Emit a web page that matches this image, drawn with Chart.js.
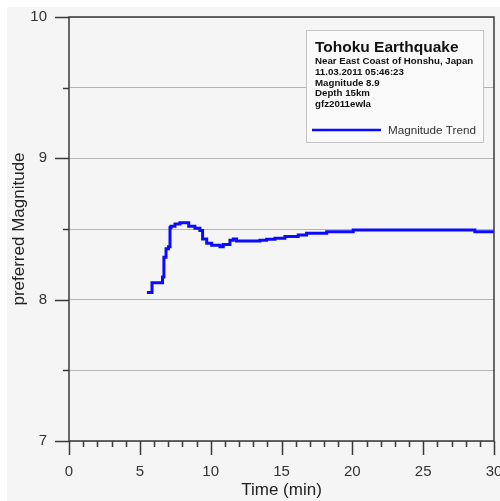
<!DOCTYPE html>
<html>
<head>
<meta charset="utf-8">
<script src="https://cdn.jsdelivr.net/npm/chart.js@4"></script>
<style>
html, body { margin: 0; padding: 0; background: #fff; overflow: hidden; }
</style>
</head>
<body>
<canvas id="chart" width="520" height="501"></canvas>
<script>
// magnitude estimates over time after origin
const timeMin = [5.50, 5.86, 6.60, 6.70, 6.85, 7.02, 7.13, 7.20, 7.48, 7.83, 8.45, 8.89, 9.24, 9.43, 9.72, 10.07, 10.66, 10.89, 11.36, 11.60, 11.83, 13.48, 13.95, 14.54, 15.24, 16.18, 16.77, 18.19, 20.06, 28.65, 30.0];
const magnitude = [8.05, 8.12, 8.16, 8.30, 8.36, 8.375, 8.51, 8.52, 8.535, 8.545, 8.52, 8.505, 8.49, 8.43, 8.40, 8.385, 8.375, 8.39, 8.42, 8.43, 8.415, 8.42, 8.427, 8.435, 8.447, 8.458, 8.47, 8.48, 8.493, 8.48, 8.48];

const xRange = [0, 30];
const yRange = [7, 10];
const seriesLabel = "Magnitude Trend";
const eventTitle = "Tohoku Earthquake";
const eventLines = [
    "Near East Coast of Honshu, Japan",
    "11.03.2011 05:46:23",
    "Magnitude 8.9",
    "Depth 15km",
    "gfz2011ewla"
];

const FONT = "'Liberation Sans', Arial, sans-serif";
const AXIS_COLOR = "#3a3a3a";

const backdrop = {
    id: "backdrop",
    beforeDraw(chart) {
        const ctx = chart.ctx;
        ctx.save();
        ctx.fillStyle = "#f5f5f5";
        ctx.fillRect(7, 7, chart.width - 7, chart.height - 7);
        ctx.restore();
    }
};

const frameAndTicks = {
    id: "frameAndTicks",
    afterDraw(chart) {
        const ctx = chart.ctx;
        const { left, right, top, bottom } = chart.chartArea;
        const xs = chart.scales.x;
        const ys = chart.scales.y;
        ctx.save();
        ctx.strokeStyle = AXIS_COLOR;
        ctx.lineWidth = 1.5;
        ctx.beginPath();
        ctx.rect(left, top, right - left, bottom - top);
        ctx.stroke();

        ctx.beginPath();
        for (let v = xRange[0]; v <= xRange[1]; v += 1) {
            const px = Math.round(xs.getPixelForValue(v)) + 0.5;
            const len = v % 5 === 0 ? 14 : 6;
            ctx.moveTo(px, bottom);
            ctx.lineTo(px, bottom + len);
        }
        for (let v = yRange[0]; v <= yRange[1]; v += 0.5) {
            const py = Math.round(ys.getPixelForValue(v)) + 0.5;
            const len = Number.isInteger(v) ? 14 : 6;
            ctx.moveTo(left, py);
            ctx.lineTo(left - len, py);
        }
        ctx.stroke();

        // info box with legend
        const bx = 306, by = 30, bw = 177, bh = 112;
        ctx.fillStyle = "#fafafa";
        ctx.strokeStyle = "#c4c4c4";
        ctx.lineWidth = 1;
        ctx.fillRect(bx, by, bw, bh);
        ctx.strokeRect(bx + 0.5, by + 0.5, bw, bh);

        ctx.fillStyle = "#111";
        ctx.textAlign = "left";
        ctx.textBaseline = "alphabetic";
        ctx.font = "bold 15.5px " + FONT;
        ctx.fillText(eventTitle, 315, 52);
        ctx.font = "bold 9.7px " + FONT;
        eventLines.forEach((line, i) => {
            ctx.fillText(line, 315, 64.3 + i * 10.6);
        });

        const ds = chart.data.datasets[0];
        ctx.strokeStyle = ds.borderColor;
        ctx.lineWidth = 2.5;
        ctx.beginPath();
        ctx.moveTo(312, 130);
        ctx.lineTo(381, 130);
        ctx.stroke();
        ctx.fillStyle = "#333";
        ctx.font = "11.7px " + FONT;
        ctx.fillText(ds.label, 388, 134);
        ctx.restore();
    }
};

new Chart(document.getElementById("chart"), {
    type: "line",
    data: {
        datasets: [
            {
                label: seriesLabel,
                data: timeMin.map((t, i) => ({ x: t, y: magnitude[i] })),
                borderColor: "#0a0aff",
                borderWidth: 3,
                pointRadius: 0,
                stepped: true,
                fill: false
            }
        ]
    },
    options: {
        responsive: false,
        animation: false,
        layout: { padding: { left: 0, top: 17, right: 26, bottom: 0 } },
        plugins: {
            legend: { display: false },
            tooltip: { enabled: false }
        },
        scales: {
            x: {
                type: "linear",
                min: xRange[0],
                max: xRange[1],
                afterFit: (s) => {
                    s.height = 60;
                    s.paddingLeft = 0;
                    s.paddingRight = 0;
                },
                grid: { display: false },
                border: { display: false },
                ticks: {
                    stepSize: 5,
                    padding: 14,
                    color: "#333",
                    font: { family: FONT, size: 15 },
                    maxRotation: 0
                },
                title: {
                    display: true,
                    text: "Time (min)",
                    color: "#222",
                    font: { family: FONT, size: 17, lineHeight: 1 },
                    padding: { top: 0, bottom: 2 }
                }
            },
            y: {
                min: yRange[0],
                max: yRange[1],
                afterFit: (s) => {
                    s.width = 69;
                    s.paddingTop = 0;
                    s.paddingBottom = 0;
                },
                grid: { color: "#b4b4b4", lineWidth: 1, drawTicks: false },
                border: { display: false },
                ticks: {
                    stepSize: 0.5,
                    padding: 22,
                    color: "#333",
                    font: { family: FONT, size: 15 },
                    callback: (v) => Number.isInteger(v) ? String(v) : ""
                },
                title: {
                    display: true,
                    text: "preferred Magnitude",
                    color: "#222",
                    font: { family: FONT, size: 17 },
                    padding: { top: 9, bottom: 0 }
                }
            }
        }
    },
    plugins: [backdrop, frameAndTicks]
});
</script>
</body>
</html>
